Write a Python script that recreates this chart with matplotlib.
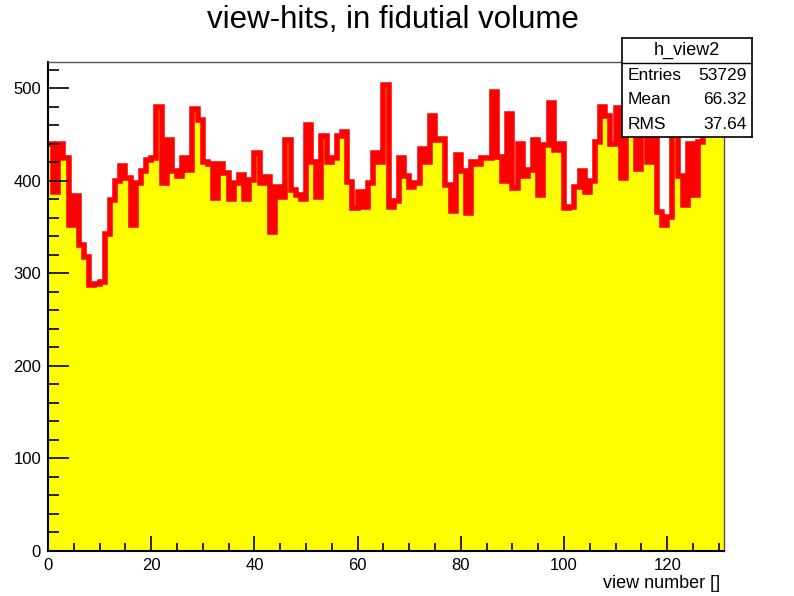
import matplotlib
matplotlib.use("Agg")
import matplotlib.pyplot as plt
import numpy as np
from matplotlib.ticker import MultipleLocator

# bin contents, one per unit-wide bin starting at 0
counts = [
    440, 388, 440, 425, 352, 383, 330, 318, 287, 288,
    291, 342, 379, 400, 416, 403, 352, 398, 410, 422,
    425, 480, 397, 444, 410, 405, 425, 412, 477, 466,
    420, 418, 381, 418, 408, 380, 398, 406, 380, 401,
    430, 397, 404, 345, 393, 382, 444, 390, 385, 380,
    460, 420, 382, 448, 420, 425, 448, 453, 399, 370,
    388, 372, 398, 430, 420, 503, 372, 378, 424, 405,
    393, 397, 434, 420, 470, 444, 445, 395, 367, 428,
    410, 365, 420, 418, 425, 424, 496, 426, 400, 472,
    392, 440, 405, 411, 444, 385, 438, 484, 433, 440,
    370, 372, 393, 410, 388, 400, 442, 480, 470, 440,
    478, 403, 470, 455, 413, 450, 420, 460, 366, 352,
    361, 455, 405, 374, 440, 385, 442, 460, 465, 470,
    460,
]
x_lo = 0
hist_name = "h_view2"
stat_labels = ["Entries", "Mean", "RMS"]
stat_values = ["53729", "66.32", "37.64"]

counts = np.array(counts, dtype=float)
edges = np.arange(x_lo, x_lo + len(counts) + 1)

plt.rcParams["font.family"] = ["Liberation Sans", "DejaVu Sans"]

W, H = 794, 596
fig = plt.figure(figsize=(W / 100, H / 100), dpi=100)
ax = fig.add_axes([48 / W, (H - 551) / H, (724 - 48) / W, (551 - 62) / H])

ax.stairs(counts, edges, fill=True, color="#ffff00", linewidth=0)
ax.stairs(counts, edges, baseline=None, color="#ff0000", linewidth=4)

ax.set_xlim(edges[0], edges[-1])
ax.set_ylim(0, counts.max() * 1.05)

ax.xaxis.set_major_locator(MultipleLocator(20))
ax.xaxis.set_minor_locator(MultipleLocator(5))
ax.yaxis.set_major_locator(MultipleLocator(100))
ax.yaxis.set_minor_locator(MultipleLocator(20))
ax.tick_params(which="both", direction="in", top=False, right=False,
               labelsize=12, width=1.2)
ax.tick_params(axis="y", which="major", length=15, pad=5)
ax.tick_params(axis="y", which="minor", length=8)
ax.tick_params(axis="x", which="major", length=11, pad=5)
ax.tick_params(axis="x", which="minor", length=6)

for side in ("left", "bottom"):
    ax.spines[side].set_linewidth(1.5)
for side in ("top", "right"):
    ax.spines[side].set_linewidth(1.0)
    ax.spines[side].set_color("#555555")

fig.text(393 / W, 1 - 20 / H, "view-hits, in fidutial volume",
         ha="center", va="center", fontsize=22.5)
fig.text(720 / W, 1 - 583 / H, "view number []", ha="right", va="center",
         fontsize=13)

# ROOT-style statistics box
box = fig.add_axes([622 / W, (H - 137) / H, (752 - 622) / W, (137 - 38) / H])
box.set_xticks([])
box.set_yticks([])
box.set_xlim(0, 1)
box.set_ylim(0, 4)
for s in box.spines.values():
    s.set_linewidth(1.2)
box.axhline(3.0, color="black", linewidth=1.0)
box.text(0.5, 3.5, hist_name, ha="center", va="center", fontsize=13)
for i, (lab, val) in enumerate(zip(stat_labels, stat_values)):
    yy = 2.5 - i
    box.text(0.04, yy, lab, ha="left", va="center", fontsize=12.5)
    box.text(0.96, yy, val, ha="right", va="center", fontsize=12.5)

fig.savefig("out.png", dpi=100)
